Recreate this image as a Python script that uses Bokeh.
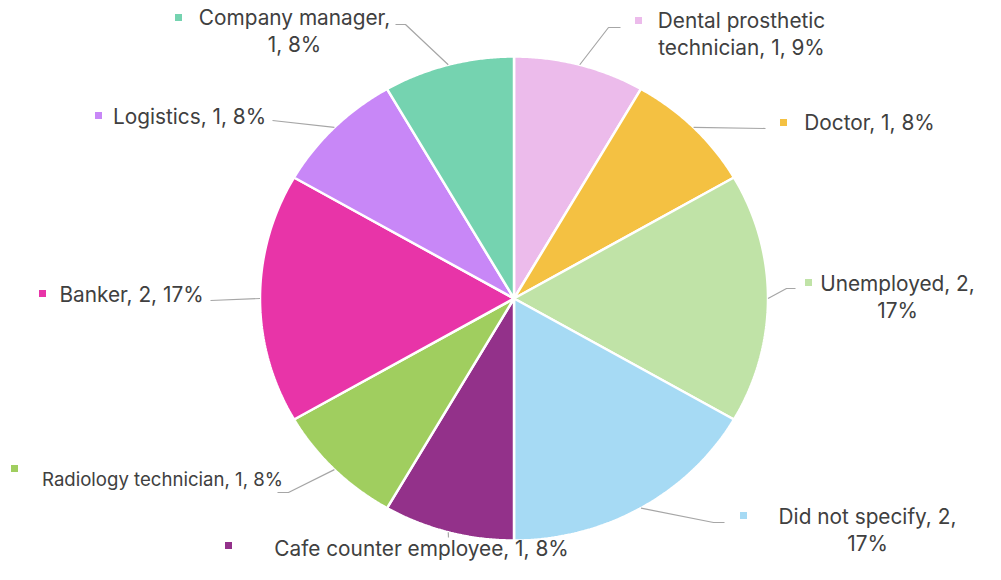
import numpy as np
from bokeh.plotting import figure
from bokeh.models import Range1d, ColumnDataSource
from bokeh.embed import file_html
from bokeh.resources import INLINE
from bokeh.core.properties import value

# ---------------- data ----------------
categories = ["Dental prosthetic technician", "Doctor", "Unemployed", "Did not specify",
              "Cafe counter employee", "Radiology technician", "Banker", "Logistics",
              "Company manager"]
counts = [1, 1, 2, 2, 1, 1, 2, 1, 1]
percents = [9, 8, 17, 17, 8, 8, 17, 8, 8]
colors = ["#ECBBEB", "#F4C142", "#C0E3A7", "#A6DAF4", "#93318A",
          "#A0CE5F", "#E834A8", "#C887F7", "#75D3B0"]

# ---------------- layout ----------------
W, H = 985, 564
CX, CY, RX, RY = 513.5, 298.0, 254.0, 242.0
FONT = "Inter"
TEXT_COLOR = "#404040"
LINE_GAP = 26.5
label_cx = [741, 869, 897, 867, 421, 162, 131, 189, 294]
label_y = [20, 122, 283, 516, 548, 478, 294, 116, 17]
label_size = ["20.8px", "20.8px", "20.8px", "20.8px", "20.8px", "18.6px",
              "20.8px", "20.8px", "20.8px"]
marker_x = [638, 783, 808, 743, 228, 14, 42, 98, 178]
marker_y = [20, 122, 282, 515, 545, 468, 293, 115, 17]
wrap_words = [2, None, 2, 4, None, None, None, None, 2]
leader_tail = [[(608, 27), (620, 27)], [(765, 128)], [(786, 288), (795, 288)],
               [(713, 522), (724, 522)], [(448, 537)], [(288, 492), (277, 492)],
               [(210, 300)], [(272, 120)], [(405, 24), (395, 24)]]

p = figure(width=W, height=H, output_backend="svg", toolbar_location=None,
           x_range=Range1d(0, W), y_range=Range1d(H, 0),
           min_border=0, outline_line_color=None)
p.axis.visible = False
p.grid.visible = False
p.background_fill_color = "white"
p.border_fill_color = "white"

total = float(sum(counts))
cum = np.concatenate([[0.0], np.cumsum(counts)]) / total * 2 * np.pi

xs, ys = [], []
mids = []
for i in range(len(counts)):
    a0, a1 = cum[i], cum[i + 1]
    t = np.linspace(a0, a1, 80)
    xs.append([CX] + list(CX + RX * np.sin(t)))
    ys.append([CY] + list(CY - RY * np.cos(t)))
    mids.append((a0 + a1) / 2)

p.patches(xs=xs, ys=ys, fill_color=colors, line_color="white", line_width=2.5)

# leader lines
lx, ly = [], []
for i, m in enumerate(mids):
    sx, sy = CX + RX * np.sin(m), CY - RY * np.cos(m)
    pts = [(sx, sy)] + leader_tail[i]
    lx.append([q[0] for q in pts])
    ly.append([q[1] for q in pts])
p.multi_line(xs=lx, ys=ly, line_color="#A6A6A6", line_width=1.2)

# markers
p.scatter(x=marker_x, y=marker_y, marker="square", size=7,
          fill_color=colors, line_color=None)

# labels
tx, ty, tt, ts = [], [], [], []
for i, c in enumerate(categories):
    full = f"{c}, {counts[i]}, {percents[i]}%"
    words = full.split(" ")
    if wrap_words[i]:
        lines = [" ".join(words[:wrap_words[i]]), " ".join(words[wrap_words[i]:])]
    else:
        lines = [full]
    for k, ln in enumerate(lines):
        tx.append(label_cx[i])
        ty.append(label_y[i] + k * LINE_GAP)
        tt.append(ln)
        ts.append(label_size[i])
src = ColumnDataSource(dict(x=tx, y=ty, text=tt, size=ts))
p.text(x="x", y="y", text="text", source=src, text_align="center",
       text_baseline="middle", text_font=value(FONT), text_font_size="size",
       text_color=TEXT_COLOR)

open("out.html", "w").write(file_html(p, INLINE))
